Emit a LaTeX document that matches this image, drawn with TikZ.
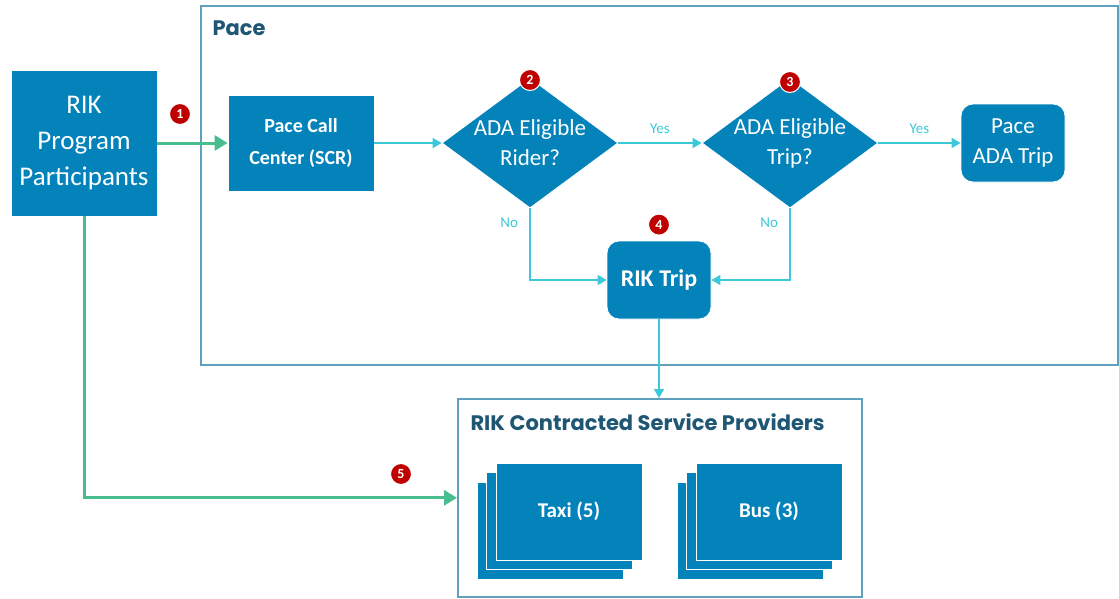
\documentclass[tikz,border=0pt]{standalone}
\usepackage{fontspec}
\setmainfont{Carlito}
\newfontfamily\headfont{Poppins}
\usetikzlibrary{shapes.geometric, arrows.meta, positioning}
\definecolor{boxblue}{RGB}{4,130,186}
\definecolor{framecol}{RGB}{96,160,190}
\definecolor{flowcyan}{RGB}{60,200,216}
\definecolor{flowgreen}{RGB}{72,190,142}
\definecolor{badgered}{RGB}{190,0,0}
\definecolor{titlecol}{RGB}{30,86,116}

\begin{document}
\begin{tikzpicture}[
 x=1pt, y=-1pt,
 frame/.style={draw=framecol, line width=1.6pt, anchor=north west, inner sep=0pt},
 heading/.style={font=\headfont\bfseries\fontsize{21}{24}\selectfont, text=titlecol, anchor=west},
 box/.style={draw=white, fill=boxblue, text=white, align=center, inner sep=0pt, line width=0.8pt},
 square/.style={box, minimum width=146pt, minimum height=96pt},
 rounded/.style={box, rounded corners=12pt, minimum width=104pt, minimum height=78pt},
 decision/.style={box, diamond, aspect=1.35, inner sep=-9pt, minimum width=176pt, minimum height=130pt, font=\fontsize{23}{30}\selectfont},
 tile/.style={box, minimum width=146pt, minimum height=97pt, font=\bfseries\fontsize{21}{24}\selectfont},
 badge/.style={circle, fill=badgered, draw=white, line width=1pt, text=white, inner sep=0pt, minimum size=21pt, font=\bfseries\fontsize{14}{14}\selectfont},
 flow/.style={draw=flowcyan, line width=1.5pt, -{Triangle[length=9pt,width=10pt]}},
 entry/.style={draw=flowgreen, line width=3pt, -{Triangle[length=13pt,width=15pt]}},
 answer/.style={text=flowcyan, font=\fontsize{15}{15}\selectfont}
]
\useasboundingbox (0,0) rectangle (1119,598);

\node[frame, minimum width=917pt, minimum height=359pt] (pace) at (200,5) {};
\node[heading] at (209,28) {Pace};
\node[frame, minimum width=404pt, minimum height=198pt] (prov) at (457,398) {};
\node[heading] at (467,422) {RIK Contracted Service Providers};

\node[square, minimum height=146pt, font=\fontsize{27}{36}\selectfont] (part) at (84,143) {RIK\\Program\\Participants};
\node[square, font=\bfseries\fontsize{20}{32}\selectfont] (call) at (301,143) {Pace Call\\Center (SCR)};
\node[decision] (rider) at (530,143) {ADA Eligible\\Rider?};
\node[decision] (trip) at (790,143) {ADA Eligible\\Trip?};
\node[rounded, font=\fontsize{23}{30}\selectfont] (ada) at (1013,143) {Pace\\ADA Trip};
\node[rounded, font=\bfseries\fontsize{24}{24}\selectfont] (rik) at (659,280) {RIK Trip};

\foreach \d/\n in {19/3, 9.5/2} {
 \node[tile] (taxi\n) at (569-\d,511.5+\d) {};
 \node[tile] (bus\n) at (769-\d,511.5+\d) {};
}
\node[tile] (taxi) at (569,511.5) {Taxi (5)};
\node[tile] (bus) at (769,511.5) {Bus (3)};

\draw[entry] (part.east) -- (call.west);
\draw[entry] (part.south) |- (prov.west);
\draw[flow] (call.east) -- (rider.west);
\draw[flow] (rider.east) -- node[answer, above=5pt] {Yes} (trip.west);
\draw[flow] (trip.east) -- node[answer, above=5pt] {Yes} (ada.west);
\draw[flow] (rider.south) |- node[answer, pos=0.1, left=8pt] {No} (rik.west);
\draw[flow] (trip.south) |- node[answer, pos=0.1, left=8pt] {No} (rik.east);
\draw[flow] (rik.south) -- (rik.south |- prov.north);

\node[badge] (b1) at (180,114) {1};
\node[badge] (b2) at (530,80) {2};
\node[badge] (b3) at (790,82) {3};
\node[badge, above=5pt of rik] (b4) {4};
\node[badge] (b5) at (401,474) {5};
\end{tikzpicture}
\end{document}
